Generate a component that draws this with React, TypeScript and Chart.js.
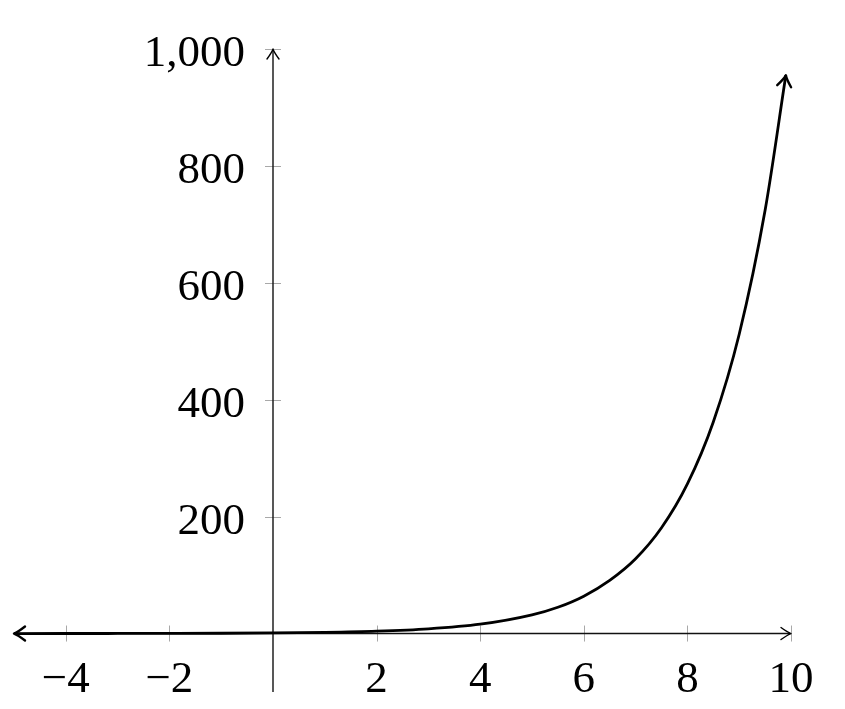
import React, { useEffect, useRef } from 'react';
import { Chart, registerables } from 'chart.js';
Chart.register(...registerables);

// Curve values
const curveX = [-5, -4, -3, -2, -1, 0, 1, 2, 3, 4, 5, 5.5, 6, 6.5, 7, 7.5, 8, 8.5, 9, 9.5, 9.9];
const curveY = [0.03, 0.06, 0.13, 0.25, 0.5, 1, 2, 4, 8, 16, 32, 45, 64, 91, 128, 181, 256, 362, 512, 724, 955];
const xTickValues = [-4, -2, 2, 4, 6, 8, 10];
const yTickValues = [200, 400, 600, 800, 1000];
const xRange = [-5, 10];
const yRange = [-100, 1000];

const FONT = "45px 'Liberation Serif', 'DejaVu Serif', serif";

function fmt(v: number): string {
  const s = Math.abs(v).toLocaleString('en-US');
  return v < 0 ? '\u2212' + s : s;
}

function drawArrowHead(ctx: CanvasRenderingContext2D, x: number, y: number, angle: number, len: number, spread: number, width: number) {
  ctx.save();
  ctx.translate(x, y);
  ctx.rotate(angle);
  ctx.strokeStyle = '#000';
  ctx.lineWidth = width;
  ctx.lineCap = 'round';
  ctx.lineJoin = 'round';
  ctx.beginPath();
  ctx.moveTo(-len, -spread);
  ctx.quadraticCurveTo(-len * 0.35, -spread * 0.2, 0, 0);
  ctx.quadraticCurveTo(-len * 0.35, spread * 0.2, -len, spread);
  ctx.stroke();
  ctx.restore();
}

const axesPlugin = {
  id: 'centerAxes',
  beforeDatasetsDraw(chart: any) {
    const { ctx } = chart;
    const xs = chart.scales.x;
    const ys = chart.scales.y;
    const x0 = xs.getPixelForValue(0);
    const y0 = ys.getPixelForValue(0);
    ctx.save();
    // tick marks
    ctx.strokeStyle = '#a8a8a8';
    ctx.lineWidth = 1;
    xTickValues.forEach((v) => {
      const px = Math.round(xs.getPixelForValue(v)) + 0.5;
      ctx.beginPath();
      ctx.moveTo(px, y0 - 8);
      ctx.lineTo(px, y0 + 8);
      ctx.stroke();
    });
    yTickValues.forEach((v) => {
      const py = Math.round(ys.getPixelForValue(v)) + 0.5;
      ctx.beginPath();
      ctx.moveTo(x0 - 8, py);
      ctx.lineTo(x0 + 8, py);
      ctx.stroke();
    });
    // axis lines
    ctx.strokeStyle = '#111';
    ctx.lineWidth = 1.4;
    const xl = xs.getPixelForValue(xRange[0]);
    const xr = xs.getPixelForValue(xRange[1]);
    const yb = ys.getPixelForValue(yRange[0]);
    const yt = ys.getPixelForValue(yRange[1]);
    ctx.beginPath();
    ctx.moveTo(xl, y0);
    ctx.lineTo(xr - 1, y0);
    ctx.stroke();
    ctx.beginPath();
    ctx.moveTo(x0, yb);
    ctx.lineTo(x0, yt + 1);
    ctx.stroke();
    // tick labels
    ctx.fillStyle = '#000';
    ctx.font = FONT;
    ctx.textBaseline = 'alphabetic';
    ctx.textAlign = 'center';
    xTickValues.forEach((v) => {
      ctx.fillText(fmt(v), xs.getPixelForValue(v), y0 + 58);
    });
    ctx.textAlign = 'right';
    yTickValues.forEach((v) => {
      ctx.fillText(fmt(v), x0 - 28, ys.getPixelForValue(v) + 17);
    });
    ctx.restore();
    drawArrowHead(ctx, xr, y0, 0, 10, 6, 1.4);
    drawArrowHead(ctx, x0, yt, -Math.PI / 2, 10, 6, 1.4);
  },
  afterDatasetsDraw(chart: any) {
    const { ctx } = chart;
    const pts = chart.getDatasetMeta(0).data;
    const n = pts.length;
    const a = pts[0], b = pts[1];
    const startAngle = Math.atan2(a.y - b.y, a.x - b.x);
    drawArrowHead(ctx, a.x, a.y, startAngle, 11, 7, 2.4);
    const p = pts[n - 1], q = pts[n - 2];
    const endAngle = Math.atan2(p.y - q.y, p.x - q.x);
    drawArrowHead(ctx, p.x, p.y, endAngle, 11, 7, 2.4);
  },
};

export default function App() {
  const ref = useRef<HTMLCanvasElement>(null);
  useEffect(() => {
    if (!ref.current) return;
    const chart = new Chart(ref.current, {
      type: 'scatter',
      data: {
        datasets: [
          {
            data: curveX.map((x, i) => ({ x, y: curveY[i] })),
            showLine: true,
            borderColor: '#000',
            borderWidth: 2.8,
            pointRadius: 0,
            cubicInterpolationMode: 'monotone',
            clip: false,
          } as any,
        ],
      },
      options: {
        responsive: false,
        animation: false,
        devicePixelRatio: 1,
        layout: { padding: { left: 14, right: 54, top: 49, bottom: 17 } },
        plugins: { legend: { display: false }, tooltip: { enabled: false } },
        scales: {
          x: { type: 'linear', display: false, min: xRange[0], max: xRange[1] },
          y: { type: 'linear', display: false, min: yRange[0], max: yRange[1] },
        },
      },
      plugins: [axesPlugin],
    });
    return () => chart.destroy();
  }, []);
  return (
    <div style={{ position: 'fixed', left: 0, top: 0, width: 845, height: 709, background: '#fff' }}>
      <canvas ref={ref} width={845} height={709} />
    </div>
  );
}
